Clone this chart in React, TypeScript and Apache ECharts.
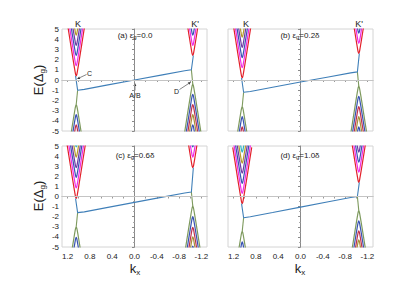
import React, { useEffect, useRef } from "react";
import * as echarts from "echarts";

// ---------- data ----------
const panelLabels = ["(a) ε{s|g}=0.0", "(b) ε{s|g}=0.2δ", "(c) ε{s|g}=0.6δ", "(d) ε{s|g}=1.0δ"];
const xTickLabels = [1.2, 0.8, 0.4, 0.0, -0.4, -0.8, -1.2];
const xMinorTicks = [1.2, 1.0, 0.8, 0.6, 0.4, 0.2, 0.0, -0.2, -0.4, -0.6, -0.8, -1.0, -1.2];

const valleyK = 1.045;
const valleyKp = -1.045;

// band profile: k offset from the valley centre, energy offset from the band edge
const bandShapeQ = [0, 0.01, 0.02, 0.04, 0.07, 0.1, 0.13, 0.17];
const bandShapeE = [0, 0.13, 0.41, 1.06, 2.08, 3.12, 4.17, 5.56];

const upperColors = ["#e3212b", "#ee2be8", "#3953b3", "#6e3aa6", "#b49a2c", "#34b4c4"];
const lowerColors = ["#7e9a5e", "#3953b3", "#c0304e", "#a8903a", "#3953b3"];

// band edges (conduction minima / valence maxima) per panel
const kUpper = [
  [0.4, 1.4, 2.4, 3.4, 4.4],
  [0.2, 1.2, 2.2, 3.2, 4.2],
  [-0.2, 0.85, 1.9, 2.85, 3.9, 4.9],
  [-0.7, 0.3, 1.3, 2.3, 3.3, 4.4],
];
const kLower = [
  [-2.4, -3.4, -4.4],
  [-2.6, -3.6, -4.6],
  [-3.0, -4.05],
  [-3.45, -4.5],
];
const kpUpper = [
  [2.4, 3.4, 4.4],
  [2.6, 3.6, 4.6],
  [2.85, 3.9, 4.9],
  [1.4, 2.4, 3.4, 4.4],
];
const kpLower = [
  [-0.4, -1.4, -2.4, -3.4, -4.4],
  [-0.6, -1.6, -2.6, -3.6, -4.6],
  [-0.95, -2.0, -3.05, -4.0, -4.9],
  [-1.4, -2.4, -3.4, -4.3],
];

// edge states
const edgeBlue = [
  [[1.057, 0.4], [1.02, -1.0], [0.9, -0.92], [0.5, -0.5], [0.0, 0.0], [-0.5, 0.5], [-0.9, 0.9], [-1.02, 1.0], [-1.055, 2.4]],
  [[1.057, 0.2], [1.02, -1.2], [0.9, -1.12], [0.5, -0.71], [0.0, -0.2], [-0.5, 0.3], [-0.9, 0.7], [-1.02, 0.8], [-1.055, 2.6]],
  [[1.057, -0.2], [1.02, -1.6], [0.9, -1.52], [0.5, -1.1], [0.0, -0.58], [-0.5, -0.06], [-0.9, 0.34], [-1.02, 0.45], [-1.055, 2.85]],
  [[1.057, -0.7], [1.02, -2.1], [0.9, -2.0], [0.5, -1.58], [0.0, -1.05], [-0.5, -0.52], [-0.9, -0.1], [-1.02, 0.0], [-1.055, 1.4]],
];
const edgeGreenK = [
  [[1.02, -1.0], [1.045, -2.4]],
  [[1.02, -1.2], [1.045, -2.6]],
  [[1.02, -1.6], [1.045, -3.0]],
  [[1.02, -2.1], [1.045, -3.45]],
];
const edgeGreenKp = [
  [[-1.02, 1.0], [-1.045, -0.4]],
  [[-1.02, 0.8], [-1.045, -0.6]],
  [[-1.02, 0.45], [-1.045, -0.95]],
  [[-1.02, 0.0], [-1.045, -1.4]],
];

// ---------- chart ----------
const FONT = "Liberation Sans, Arial, Helvetica, sans-serif";

function bandPoints(center: number, edge: number, sign: number) {
  const pts: number[][] = [];
  for (let i = bandShapeQ.length - 1; i >= 0; i--) pts.push([center + bandShapeQ[i], edge + sign * bandShapeE[i]]);
  for (let i = 1; i < bandShapeQ.length; i++) pts.push([center - bandShapeQ[i], edge + sign * bandShapeE[i]]);
  return pts;
}

function arrow(x1: number, y1: number, x2: number, y2: number) {
  const ang = Math.atan2(y2 - y1, x2 - x1);
  const L = 3, W = 1.3;
  const bx = x2 - L * Math.cos(ang), by = y2 - L * Math.sin(ang);
  const px = -Math.sin(ang) * W, py = Math.cos(ang) * W;
  return [
    { type: "line", shape: { x1, y1, x2: bx, y2: by }, style: { stroke: "#333", lineWidth: 0.6 } },
    { type: "polygon", shape: { points: [[x2, y2], [bx + px, by + py], [bx - px, by - py]] }, style: { fill: "#333" } },
  ];
}

export default function App() {
  const ref = useRef<HTMLDivElement>(null);
  useEffect(() => {
    const chart = echarts.init(ref.current!, null, { renderer: "svg" });
    const grids = [
      { left: 62, top: 29, width: 145, height: 102 },
      { left: 228, top: 29, width: 145, height: 102 },
      { left: 62, top: 146, width: 145, height: 101 },
      { left: 228, top: 146, width: 145, height: 101 },
    ];
    const xAxes: any[] = [];
    const yAxes: any[] = [];
    const series: any[] = [];
    for (let p = 0; p < 4; p++) {
      xAxes.push({
        type: "value", gridIndex: p, min: -1.3, max: 1.3, inverse: true,
        axisLine: { show: true, lineStyle: { color: "#b0b0b0", width: 1 } },
        axisTick: { show: true, customValues: xMinorTicks, length: 2, lineStyle: { color: "#999" } },
        axisLabel: {
          show: p >= 2, customValues: xTickLabels, margin: 5, fontSize: 8, color: "#222", fontFamily: FONT,
          formatter: (v: number) => v.toFixed(1),
        },
        splitLine: { show: false },
      });
      yAxes.push({
        type: "value", gridIndex: p, min: -5, max: 5, interval: 1,
        axisLine: { show: true, lineStyle: { color: "#8a8a8a", width: 1 } },
        axisTick: { show: true, length: 2.5, lineStyle: { color: "#8a8a8a" } },
        minorTick: { show: true, splitNumber: 2, length: 1.5, lineStyle: { color: "#aaa" } },
        axisLabel: { show: p % 2 === 0, margin: 3, fontSize: 8, color: "#222", fontFamily: FONT },
        splitLine: { show: false },
      });
      // zero line
      series.push({
        type: "line", xAxisIndex: p, yAxisIndex: p, data: [], silent: true, z: 1,
        markLine: {
          silent: true, symbol: "none", label: { show: false },
          lineStyle: { color: "#c4c4c4", width: 1, type: "solid" },
          data: [{ yAxis: 0 }],
        },
      });
      const addBand = (center: number, edges: number[], sign: number, colors: string[]) => {
        edges.forEach((e, i) => {
          series.push({
            type: "line", xAxisIndex: p, yAxisIndex: p, data: bandPoints(center, e, sign),
            symbol: "none", showSymbol: false, smooth: 0.3, silent: true, clip: true, z: 2,
            lineStyle: { color: colors[i % colors.length], width: 1.2 },
          });
        });
      };
      addBand(valleyK, kUpper[p], 1, upperColors);
      addBand(valleyK, kLower[p], -1, lowerColors);
      addBand(valleyKp, kpUpper[p], 1, upperColors);
      addBand(valleyKp, kpLower[p], -1, lowerColors);
      [edgeGreenK[p], edgeGreenKp[p]].forEach((d) =>
        series.push({
          type: "line", xAxisIndex: p, yAxisIndex: p, data: d, symbol: "none", showSymbol: false,
          silent: true, clip: true, z: 3, lineStyle: { color: "#7e9a5e", width: 1.1 },
        })
      );
      series.push({
        type: "line", xAxisIndex: p, yAxisIndex: p, data: edgeBlue[p], symbol: "none", showSymbol: false,
        silent: true, clip: true, z: 4, lineStyle: { color: "#3f7fb8", width: 1.1 },
      });
    }

    const titleRich = { s: { fontSize: 6, lineHeight: 6, verticalAlign: "bottom", fontFamily: FONT, fill: "#222" } };
    const bigRich = { s: { fontSize: 8, lineHeight: 8, verticalAlign: "bottom", fontFamily: FONT, fill: "#222" } };
    const txt = (x: number, y: number, text: string, size: number, extra: any = {}) => ({
      type: "text", x, y, z: 10,
      style: { text, fontSize: size, fontFamily: FONT, fill: "#222", align: "center", verticalAlign: "middle", ...extra },
    });
    const graphic: any[] = [
      txt(78, 24, "K", 9), txt(195, 24, "K'", 9), txt(246, 24, "K", 9), txt(359, 24, "K'", 9),
      txt(135, 35, panelLabels[0], 8, { lineHeight: 10, rich: titleRich }),
      txt(300, 35, panelLabels[1], 8, { lineHeight: 10, rich: titleRich }),
      txt(135, 155, panelLabels[2], 8, { lineHeight: 10, rich: titleRich }),
      txt(300, 155, panelLabels[3], 8, { lineHeight: 10, rich: titleRich }),
      { ...txt(38, 80, "E(Δ{s|g})", 13, { lineHeight: 16, rich: bigRich }), rotation: Math.PI / 2 },
      { ...txt(38, 196, "E(Δ{s|g})", 13, { lineHeight: 16, rich: bigRich }), rotation: Math.PI / 2 },
      txt(135, 268, "k{s|x}", 13, { lineHeight: 16, rich: bigRich }),
      txt(300, 268, "k{s|x}", 13, { lineHeight: 16, rich: bigRich }),
      txt(89.5, 73, "C", 7),
      txt(135, 95, "A/B", 7),
      txt(176.5, 91, "D", 7),
      ...arrow(86.5, 74.5, 77, 79),
      ...arrow(135, 90.5, 135, 83),
      ...arrow(179.5, 89.5, 191, 82),
    ];

    chart.setOption({
      animation: false,
      backgroundColor: "#fff",
      grid: grids.map((g) => ({ ...g, show: true, borderColor: "#d4d4d4", borderWidth: 1, backgroundColor: "transparent" })),
      xAxis: xAxes,
      yAxis: yAxes,
      series,
      graphic,
    });
    return () => chart.dispose();
  }, []);
  return (
    <div
      ref={ref}
      style={{ position: "fixed", left: 0, top: 0, width: 415, height: 291, background: "#fff" }}
    />
  );
}
